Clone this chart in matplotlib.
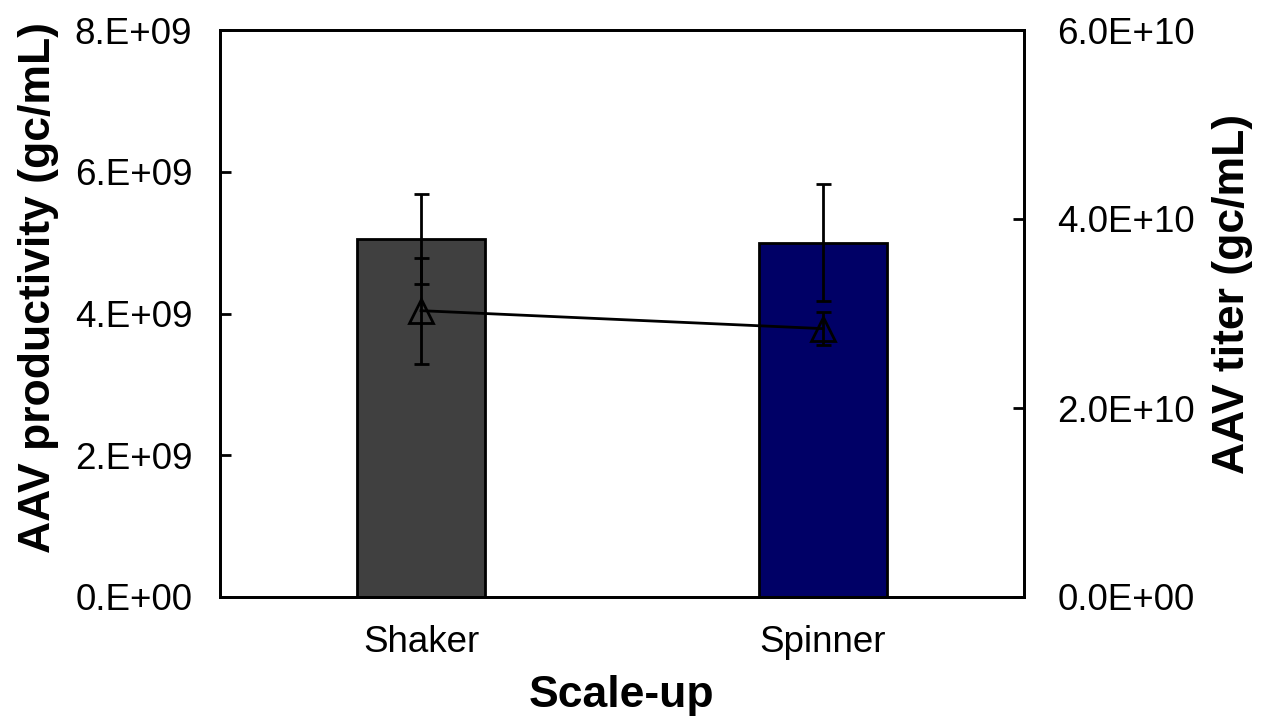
import matplotlib
matplotlib.use("Agg")
import matplotlib.pyplot as plt
import numpy as np

categories = ["Shaker", "Spinner"]
productivity = [5.05e9, 5.00e9]
productivity_err = [0.635e9, 0.825e9]
titer = [3.03e10, 2.84e10]
titer_err = [0.56e10, 0.175e10]
bar_colors = ["#404040", "#000066"]

left_ticks = [0, 2e9, 4e9, 6e9, 8e9]
left_ticklabels = ["0.E+00", "2.E+09", "4.E+09", "6.E+09", "8.E+09"]
right_ticks = [0, 2e10, 4e10, 6e10]
right_ticklabels = ["0.0E+00", "2.0E+10", "4.0E+10", "6.0E+10"]

plt.rcParams['font.family'] = ['Liberation Sans', 'DejaVu Sans']

fig = plt.figure(figsize=(12.69, 7.19), dpi=100)
ax = fig.add_axes([220/1269, 1-597/719, (1024-220)/1269, (597-30)/719])
ax2 = ax.twinx()

lw = 2.0
x = np.arange(len(categories))
ax.bar(x, productivity, width=0.316, color=bar_colors, edgecolor="black", linewidth=lw, zorder=2)
ax.errorbar(x, productivity, yerr=productivity_err, fmt="none", ecolor="black",
            elinewidth=lw, capsize=5.4, capthick=lw, zorder=3)

ax2.errorbar(x, titer, yerr=titer_err, fmt="-^", color="black", markerfacecolor="none",
             markeredgecolor="black", markersize=17, markeredgewidth=lw, linewidth=lw,
             elinewidth=lw, capsize=5.4, capthick=lw)

ax.set_xlim(-0.5, 1.5)
ax.set_ylim(0, 8e9)
ax2.set_ylim(0, 6e10)

ax.set_yticks(left_ticks)
ax.set_yticklabels(left_ticklabels)
ax2.set_yticks(right_ticks)
ax2.set_yticklabels(right_ticklabels)
ax.set_xticks(x)
ax.set_xticklabels(categories)

ax.tick_params(axis="y", direction="in", length=8, width=lw, labelsize=26.5, pad=20)
ax2.tick_params(axis="y", direction="in", length=8, width=lw, labelsize=26.5, pad=24)
ax.tick_params(axis="x", length=0, labelsize=26.5, pad=20)

for a in (ax, ax2):
    for s in a.spines.values():
        s.set_linewidth(lw)
        s.set_color("black")

ax.set_ylabel("AAV productivity (gc/mL)", fontsize=32, fontweight="bold")
ax2.set_ylabel("AAV titer (gc/mL)", fontsize=32, fontweight="bold")
ax.set_xlabel("Scale-up", fontsize=32, fontweight="bold")
ax.yaxis.set_label_coords(-0.200, 0.545)
ax2.yaxis.set_label_coords(1.234, 0.535)
ax.xaxis.set_label_coords(0.5, -0.138)

fig.savefig("out.png", dpi=100)
